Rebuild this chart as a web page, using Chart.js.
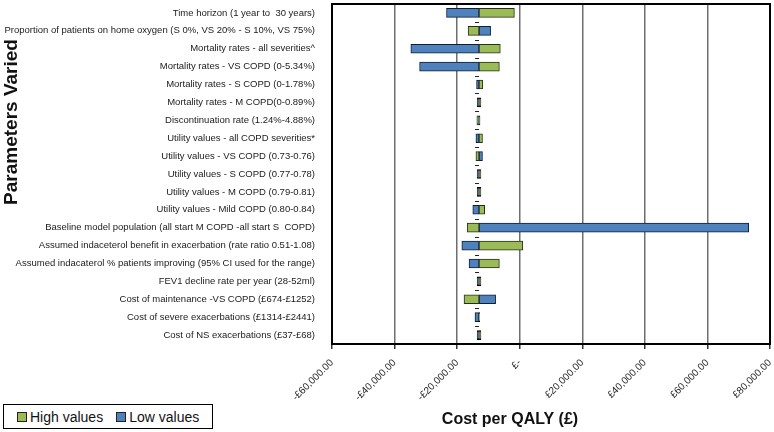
<!DOCTYPE html>
<html>
<head>
<meta charset="utf-8">
<script src="https://cdn.jsdelivr.net/npm/chart.js@4.4.1/dist/chart.umd.min.js"></script>
<style>
html, body { margin: 0; padding: 0; background: #fff; }
#wrap { position: relative; width: 774px; height: 432px; }
#legend {
    position: absolute; left: 3px; top: 404px; width: 208px; height: 23px;
    border: 1.5px solid #000; background: #fff;
    font-family: "Liberation Sans", Arial, sans-serif; font-size: 14px; color: #111;
    display: flex; align-items: center;
}
#legend span.box { display: inline-block; width: 8px; height: 8px; margin: 0 3px 0 0; border: 1.5px solid #222; }
#legend span.item { display: inline-flex; align-items: center; margin-left: 13px; }
</style>
</head>
<body>
<div id="wrap">
    <canvas id="tornado" width="774" height="432"></canvas>
    <div id="legend">
        <span class="item"><span class="box" style="background:#9bbb59"></span>High values</span>
        <span class="item"><span class="box" style="background:#4f81bd"></span>Low values</span>
    </div>
</div>
<script>
const parameters = [
    'Time horizon (1 year to  30 years)',
    'Proportion of patients on home oxygen (S 0%, VS 20% - S 10%, VS 75%)',
    'Mortality rates - all severities^',
    'Mortality rates - VS COPD (0-5.34%)',
    'Mortality rates - S COPD (0-1.78%)',
    'Mortality rates - M COPD(0-0.89%)',
    'Discontinuation rate (1.24%-4.88%)',
    'Utility values - all COPD severities*',
    'Utility values - VS COPD (0.73-0.76)',
    'Utility values - S COPD (0.77-0.78)',
    'Utility values - M COPD (0.79-0.81)',
    'Utility values - Mild COPD (0.80-0.84)',
    'Baseline model population (all start M COPD -all start S  COPD)',
    'Assumed indaceterol benefit in exacerbation (rate ratio 0.51-1.08)',
    'Assumed indacaterol % patients improving (95% CI used for the range)',
    'FEV1 decline rate per year (28-52ml)',
    'Cost of maintenance -VS COPD (£674-£1252)',
    'Cost of severe exacerbations (£1314-£2441)',
    'Cost of NS exacerbations (£37-£68)'
];
const baseCase = -13000;
const highValues = [-1700, -16500, -6200, -6500, -11800, -12400, -13700, -11900, -14000, -12400, -12400, -11200,
                    -16800, 1000, -6500, -12400, -17800, -12800, -12400];
const lowValues  = [-23400, -9300, -34800, -32000, -13800, -13600, -12700, -14000, -11900, -13600, -13600, -15000,
                    73200, -18500, -16200, -13600, -7700, -14300, -13600];
const xTicks = [-60000, -40000, -20000, 0, 20000, 40000, 60000, 80000];

const colors = {
    high : '#9bbb59',
    low  : '#4f81bd'
};

function money(v) {
    if (v === 0) return '£-';
    const s = Math.abs(v).toFixed(2).replace(/\B(?=(\d{3})+(?!\d))/g, ',');
    return (v < 0 ? '-£' : '£') + s;
}

// very short bars show up as black dashes in the original
function edge(normal) {
    return c => {
        const r = c.raw;
        return r && Math.abs(r[1] - r[0]) < 700 ? '#000' : normal;
    };
}

const frame = {
    id: 'frame',
    afterDraw(chart) {
        const {ctx, chartArea: a, scales: {x, y}} = chart;
        ctx.save();
        // category tick marks on the base case line
        const bx = x.getPixelForValue(baseCase);
        const step = (a.bottom - a.top) / parameters.length;
        ctx.strokeStyle = '#222';
        ctx.lineWidth = 1;
        for (let i = 1; i < parameters.length; i++) {
            const py = Math.round(a.top + i * step) + 0.5;
            ctx.beginPath();
            ctx.moveTo(bx - 4, py);
            ctx.lineTo(bx, py);
            ctx.stroke();
        }
        ctx.strokeStyle = '#000';
        ctx.lineWidth = 2;
        ctx.strokeRect(a.left, a.top, a.right - a.left, a.bottom - a.top);
        // axis titles
        ctx.fillStyle = '#111';
        ctx.font = 'bold 16px "Liberation Sans", Arial, sans-serif';
        ctx.textAlign = 'center';
        ctx.textBaseline = 'middle';
        ctx.fillText('Cost per QALY (£)', 510, 420);
        ctx.translate(12, 122);
        ctx.rotate(-Math.PI / 2);
        ctx.font = 'bold 19px "Liberation Sans", Arial, sans-serif';
        ctx.fillText('Parameters Varied', 0, 0);
        ctx.restore();
    }
};

const ctx = document.getElementById('tornado').getContext('2d');
const tornadoChart = new Chart(ctx, {
    type: 'bar',
    data: {
        labels: parameters,
        datasets: [{
            label: 'High values',
            data: highValues.map(v => [baseCase, v]),
            backgroundColor: colors.high,
            borderColor: edge('#263014'),
            borderWidth: 1,
            borderSkipped: false,
            barThickness: 9,
            grouped: false
        },
        {
            label: 'Low values',
            data: lowValues.map(v => [baseCase, v]),
            backgroundColor: colors.low,
            borderColor: edge('#0f1e33'),
            borderWidth: 1,
            borderSkipped: false,
            barThickness: 9,
            grouped: false
        }]
    },
    options: {
        indexAxis: 'y',
        responsive: false,
        animation: false,
        layout: { padding: { top: 4, right: 4, left: 0, bottom: 0 } },
        plugins: {
            legend: { display: false },
            tooltip: { enabled: false }
        },
        scales: {
            x: {
                min: -60000,
                max: 80000,
                afterBuildTicks: scale => { scale.ticks = xTicks.map(v => ({ value: v })); },
                afterFit: scale => {
                    scale.height = 88;
                    scale.paddingLeft = 0;
                    scale.paddingRight = 0;
                },
                grid: { color: '#6e6e6e', lineWidth: 1.5, tickLength: 5, tickColor: '#333' },
                border: { color: '#000', width: 2 },
                ticks: {
                    autoSkip: false,
                    minRotation: 45,
                    maxRotation: 45,
                    padding: 8,
                    color: '#222',
                    font: { family: '"Liberation Sans", Arial, sans-serif', size: 10 },
                    callback: v => money(v)
                }
            },
            y: {
                afterFit: scale => {
                    scale.width = 332;
                    scale.paddingTop = 0;
                    scale.paddingBottom = 0;
                },
                grid: { display: false },
                border: { display: false },
                ticks: {
                    padding: 9,
                    color: '#1a1a1a',
                    font: { family: '"Liberation Sans", Arial, sans-serif', size: 9.5 }
                }
            }
        }
    },
    plugins: [frame]
});
</script>
</body>
</html>
